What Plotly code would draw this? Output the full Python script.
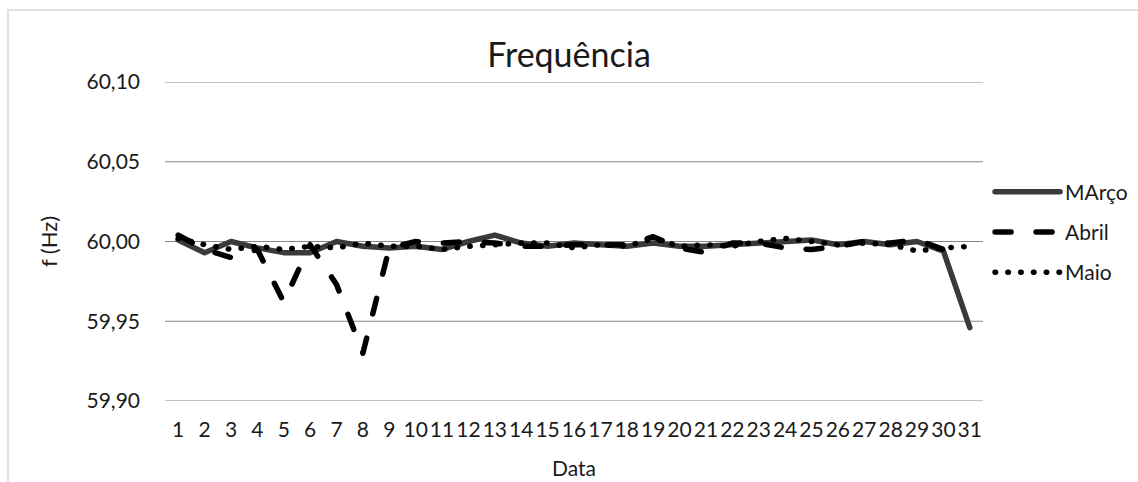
import plotly.graph_objects as go

# Dias do mês (eixo categórico)
dias = [str(d) for d in range(1, 32)]

# Frequência média diária (Hz)
marco = [60.001, 59.993, 60.000, 59.996, 59.993, 59.993, 60.000, 59.997, 59.996, 59.997,
         59.995, 60.000, 60.004, 59.999, 59.997, 59.999, 59.998, 59.997, 59.999, 59.997,
         59.997, 59.998, 59.999, 60.000, 60.001, 59.998, 60.000, 59.998, 60.000, 59.994,
         59.946]
abril = [60.004, 59.995, 59.990, 59.995, 59.962, 59.998, 59.973, 59.930, 59.996, 60.000,
         59.999, 60.000, 59.999, 59.997, 59.997, 59.998, 59.998, 59.998, 60.003, 59.996,
         59.993, 59.999, 59.999, 59.996, 59.995, 59.997, 60.000, 59.999, 60.001, 59.995]
maio = [60.002, 59.998, 59.995, 59.997, 59.995, 59.997, 59.996, 59.999, 59.997, 59.997,
        59.995, 59.997, 59.998, 59.999, 59.999, 59.996, 59.998, 59.997, 60.002, 59.997,
        59.998, 59.997, 60.000, 60.002, 60.000, 59.998, 59.999, 59.998, 59.994, 59.996,
        59.997]

y_ticks = [59.90, 59.95, 60.00, 60.05, 60.10]

FONT = "Lato"
TXT = "#1a1a1a"
GRID = "#868686"

fig = go.Figure()

# linhas de grade horizontais (inclusive nos extremos do eixo)
for v in y_ticks:
    fig.add_shape(type="line", xref="paper", yref="y", x0=0, x1=1, y0=v, y1=v,
                  line=dict(color=GRID, width=1.2), layer="below")

fig.add_trace(go.Scatter(x=dias[:len(marco)], y=marco, name="MArço", mode="lines",
                         legendgroup="a",
                         line=dict(color="#3a3a3a", width=5.5)))
fig.add_trace(go.Scatter(x=dias[:len(abril)], y=abril, name="Abril", mode="lines",
                         legendgroup="b",
                         line=dict(color="#000000", width=5.5, dash="16px,25px")))
fig.add_trace(go.Scatter(x=dias[:len(maio)], y=maio, name="Maio", mode="lines",
                         legendgroup="c",
                         line=dict(color="#000000", width=5.5, dash="0.5px,12.3px")))

# moldura cinza clara da área do gráfico
fig.add_shape(type="rect", xref="paper", yref="paper",
              x0=-0.192, x1=1.3, y0=-0.4, y1=1.2257,
              line=dict(color="#d9d9d9", width=1.5), fillcolor="rgba(0,0,0,0)",
              layer="below")

fig.update_layout(
    width=1138, height=482,
    margin=dict(l=165, r=155, t=82, b=81, autoexpand=False),
    paper_bgcolor="white", plot_bgcolor="white",
    separators=",.",
    font=dict(family=FONT, size=21, color=TXT),
    title=dict(text="Frequência", x=0.5, xanchor="center", y=0.885, yanchor="middle",
               font=dict(family=FONT, size=34, color=TXT)),
    legend=dict(xref="container", yref="container",
                x=0.870, xanchor="left", y=0.5187, yanchor="middle",
                font=dict(family=FONT, size=21, color=TXT),
                traceorder="grouped", tracegroupgap=10, itemwidth=65,
                bgcolor="rgba(0,0,0,0)"),
    showlegend=True,
)
fig.update_xaxes(type="category", categoryorder="array", categoryarray=dias,
                 range=[-0.5, 30.5], showgrid=False, zeroline=False, showline=False,
                 ticks="", tickangle=0, ticklabelstandoff=14,
                 tickfont=dict(family=FONT, size=21, color=TXT),
                 title=dict(text="Data", standoff=21, font=dict(family=FONT, size=21, color=TXT)))
fig.update_yaxes(range=[59.90, 60.10], tickvals=y_ticks, tickformat=".2f",
                 showgrid=False, zeroline=False, showline=False, ticks="",
                 ticklabelstandoff=24,
                 tickfont=dict(family=FONT, size=21, color=TXT),
                 title=dict(text="f (Hz)", standoff=22, font=dict(family=FONT, size=22, color=TXT)))

post = """
var gd = document.getElementById('{plot_id}');
function roundCaps(){
  gd.querySelectorAll('path.js-line').forEach(function(p){
    p.style.strokeLinecap = 'round';
    p.style.strokeLinejoin = 'round';
  });
}
roundCaps();
if (gd.on) { gd.on('plotly_afterplot', roundCaps); }
"""
fig.write_html("out.html", post_script=post)
